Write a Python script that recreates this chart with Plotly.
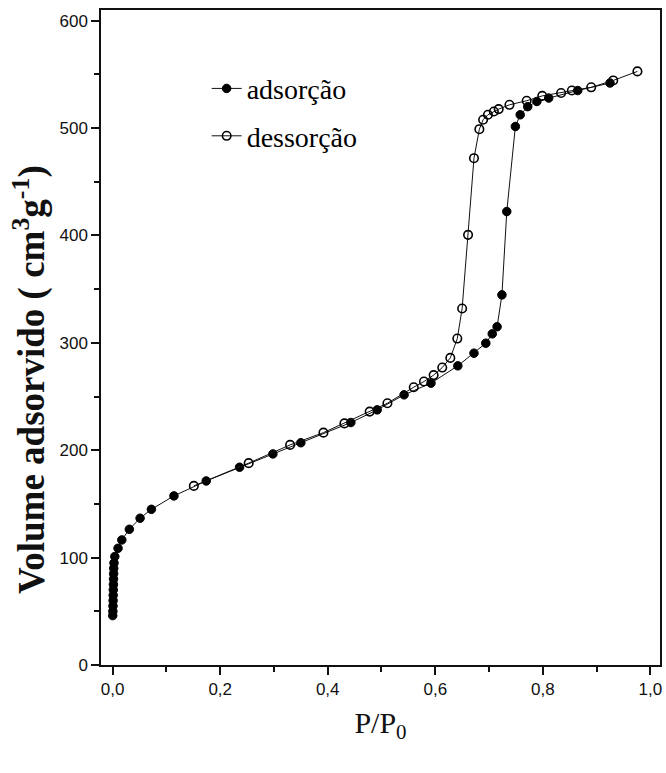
import plotly.graph_objects as go

# Adsorption branch (filled circles)
ads_x = [0.0002, 0.0004, 0.0006, 0.0008, 0.0010, 0.0012, 0.0014, 0.0016, 0.0018, 0.0020,
         0.0025, 0.004, 0.010, 0.017, 0.031, 0.051, 0.072, 0.114, 0.174, 0.236,
         0.298, 0.350, 0.443, 0.492, 0.542, 0.592, 0.642, 0.672, 0.694, 0.706,
         0.715, 0.724, 0.733, 0.749, 0.758, 0.772, 0.789, 0.811, 0.865, 0.925]
ads_y = [46, 50, 55, 60, 65, 70, 75, 80, 85, 90,
         95, 101, 108.7, 116.5, 126.4, 136.7, 145, 157.5, 171.4, 184.2,
         196.6, 207, 225.8, 237.6, 251.6, 262.5, 278.6, 290.4, 299.7, 308.4,
         315, 344.7, 422.3, 501.5, 512.4, 520, 524.8, 528, 535, 542]

# Desorption branch (open circles)
des_x = [0.976, 0.931, 0.890, 0.854, 0.834, 0.799, 0.770, 0.738, 0.718, 0.709,
         0.698, 0.689, 0.682, 0.672, 0.661, 0.650, 0.641, 0.628, 0.613, 0.597,
         0.579, 0.560, 0.511, 0.478, 0.431, 0.392, 0.330, 0.253, 0.151]
des_y = [552.8, 544.4, 538, 535, 532.7, 530, 525.5, 521.7, 517.7, 515.5,
         512.4, 507.8, 499, 472, 400.6, 332, 304, 286, 277, 270,
         264, 258.7, 243.8, 236, 225, 216.4, 205, 188, 166.8]

x_ticks = [0.0, 0.2, 0.4, 0.6, 0.8, 1.0]
y_ticks = [0, 100, 200, 300, 400, 500, 600]
y_title = "<b>Volume adsorvido ( cm<sup>3</sup>g<sup>-1</sup>)</b>"

fig = go.Figure()
fig.add_trace(go.Scatter(
    x=ads_x, y=ads_y, name="adsorção", mode="lines+markers", legendgroup="a",
    line=dict(color="#111111", width=1),
    marker=dict(symbol="circle", size=8.5, color="#000000", line=dict(color="#000000", width=1)),
))
fig.add_trace(go.Scatter(
    x=des_x, y=des_y, name="dessorção", mode="lines+markers", legendgroup="d",
    line=dict(color="#111111", width=1),
    marker=dict(symbol="circle-open", size=8.5, color="#000000", line=dict(width=1.6)),
))

tickfont = dict(family="Liberation Sans Narrow, Liberation Sans, Arial", size=17, color="#111111")

fig.update_layout(
    width=666, height=773,
    margin=dict(l=101, r=4, t=10, b=108),
    paper_bgcolor="white", plot_bgcolor="white",
    separators=",.",
    showlegend=True,
    legend=dict(
        x=0.189, y=0.918, xanchor="left", yanchor="top",
        font=dict(family="Liberation Serif, Times New Roman", size=28, color="#000000"),
        bgcolor="rgba(0,0,0,0)", tracegroupgap=8,
    ),
    xaxis=dict(
        range=[-0.0217, 1.018],
        tickvals=x_ticks, tickformat=".1f",
        ticks="outside", ticklen=8, tickwidth=1.5, tickcolor="#111111",
        minor=dict(dtick=0.1, ticks="outside", ticklen=5, tickwidth=1.5, tickcolor="#111111"),
        showline=True, linecolor="#111111", linewidth=1.5, mirror=True,
        showgrid=False, zeroline=False,
        tickfont=tickfont,
        title=dict(text="P/P<sub>0</sub>", standoff=14,
                   font=dict(family="Liberation Serif, Times New Roman", size=30, color="#111111")),
    ),
    yaxis=dict(
        range=[0, 610],
        tickvals=y_ticks,
        ticks="outside", ticklen=8, tickwidth=1.5, tickcolor="#111111",
        minor=dict(dtick=50, ticks="outside", ticklen=5, tickwidth=1.5, tickcolor="#111111"),
        showline=True, linecolor="#111111", linewidth=1.5, mirror=True,
        showgrid=False, zeroline=False,
        tickfont=tickfont,
    ),
    annotations=[dict(
        text=y_title, textangle=-90, showarrow=False,
        xref="paper", yref="paper", x=-0.127, y=0.435,
        xanchor="center", yanchor="middle",
        font=dict(family="Liberation Serif, Times New Roman", size=37, color="#111111"),
    )],
)

fig.write_html("out.html")
